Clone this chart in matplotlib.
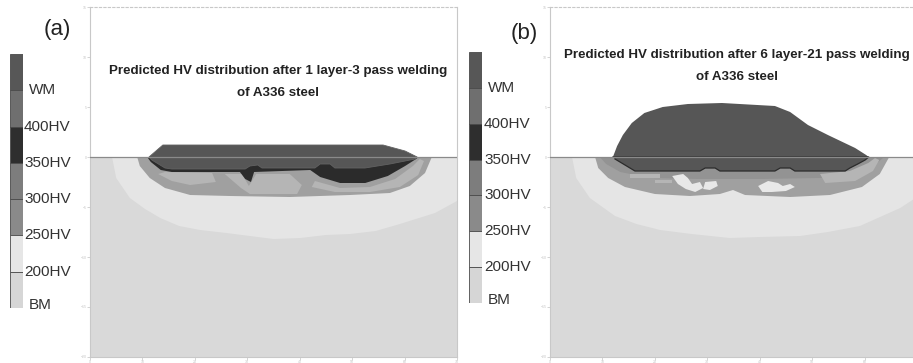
import matplotlib
matplotlib.use("Agg")
import matplotlib.pyplot as plt
from matplotlib.patches import Polygon

plt.rcParams['font.family'] = ['Liberation Sans', 'DejaVu Sans']

# colour legend (top -> bottom)
band_colors = ['#575757', '#6f6f6f', '#2e2e2e', '#7d7d7d', '#8a8a8a', '#e6e6e6', '#d6d6d6']
band_labels = ['WM', '400HV', '350HV', '300HV', '250HV', '200HV', 'BM']

# zone colours used in the maps
c_bm = '#d9d9d9'
c_haz = '#e5e5e5'
c_ring = '#a0a0a0'
c_ring_dark = '#939393'
c_ring_light = '#b5b5b5'
c_white = '#e8e8e8'
c_black = '#2b2b2b'
c_wm = '#565656'

x_ticks_a = [0, 10, 20, 30, 40, 50, 60, 70]
x_ticks_b = [0, 10, 20, 30, 40, 50, 60]
y_ticks = [15, 10, 5, 0, -5, -10, -15, -20]

# ---- panel (a): 1 layer - 3 pass (x, y in mm) ----
haz_a = [(4.2, 0), (5.0, -2.1), (7.6, -4.1), (10.5, -5.2), (13.4, -6.1), (17.0, -6.9),
         (21.0, -7.3), (26.0, -7.6), (30.5, -7.9), (35.0, -8.2), (40.1, -8.1), (45.0, -7.8),
         (49.6, -7.7), (54.5, -7.4), (59.1, -6.7), (65.8, -5.6), (70, -4.4), (70, 0)]
ring_a = [(9.0, 0), (9.5, -0.9), (11.4, -2.1), (14.3, -3.1), (19.1, -3.8), (26.7, -3.9),
          (38.1, -4.0), (49.6, -3.8), (57.2, -3.6), (61.0, -2.9), (63.9, -1.6), (65.2, 0)]
light_a1 = [(14.3, -1.5), (23.3, -1.6), (24.0, -2.5), (19.1, -2.8), (15.6, -2.4), (13.0, -1.7)]
light_a2 = [(25.7, -1.7), (29.0, -1.7), (30.3, -2.9), (31.7, -1.7), (38.1, -1.7), (40.4, -2.8),
            (39.5, -3.7), (30.5, -3.7), (28.8, -3.1)]
light_a3 = [(42.9, -2.4), (47.7, -3.1), (53.4, -3.0), (58.2, -2.2), (61.6, -0.9), (62.9, -0.2),
            (63.7, -0.4), (62.6, -1.8), (59.1, -3.0), (53.4, -3.5), (46.7, -3.5), (42.3, -3.0)]
black_a = [(10.9, 0), (11.6, -0.5), (13.5, -1.3), (15.6, -1.5), (28.6, -1.5), (29.6, -2.2),
           (30.7, -2.5), (31.3, -1.5), (42.0, -1.3), (43.9, -2.0), (47.7, -2.6), (52.5, -2.6),
           (56.8, -1.9), (60.1, -0.9), (62.2, -0.2), (62.7, 0)]
wm_a = [(11.25, 0), (13.9, 1.2), (55.9, 1.2), (60.1, 0.6), (62.4, 0), (62.0, -0.2),
        (60.1, -0.4), (57.2, -0.7), (52.45, -1.1), (46.7, -1.1), (45.8, -0.7), (43.9, -0.7),
        (42.9, -1.1), (32.8, -1.1), (32.0, -0.8), (30.5, -0.9), (29.6, -1.2), (15.6, -1.2),
        (14.3, -1.1), (11.8, -0.3)]

# ---- panel (b): 6 layer - 21 pass ----
haz_b = [(4.2, 0), (5.0, -2.1), (7.6, -4.1), (12.4, -5.9), (16.5, -6.7), (21.0, -7.3),
         (27.0, -7.7), (34.3, -8.1), (40.0, -8.0), (47.7, -7.9), (53.0, -7.5), (59.1, -6.9),
         (66.8, -5.1), (70, -4.0), (70, 0)]
ring_b = [(8.6, 0), (9.2, -1.1), (11.1, -2.1), (14.3, -3.0), (20.0, -3.7), (26.7, -3.9),
          (32.4, -3.7), (34.9, -3.3), (37.2, -3.8), (45.8, -4.0), (53.4, -3.8), (59.5, -3.0),
          (62.9, -1.7), (64.7, 0)]
dark_b = [(9.5, 0), (10.7, -0.7), (13.4, -1.5), (19.1, -2.1), (28.6, -2.2), (40.1, -2.2),
          (51.5, -2.1), (58.2, -1.7), (62.0, -0.8), (63.7, 0)]
light_b1 = [(15.3, -1.7), (21.0, -1.7), (21.0, -2.1), (15.3, -2.1)]
light_b2 = [(20.0, -2.3), (23.3, -2.3), (23.3, -2.6), (20.0, -2.6)]
light_b3 = [(51.5, -1.7), (57.2, -1.4), (60.7, -0.6), (62.0, -0.1), (62.8, -0.3), (61.6, -1.4),
            (58.2, -2.4), (52.5, -2.6)]
white_b1 = [(23.3, -1.9), (25.4, -1.7), (26.3, -2.1), (27.1, -2.7), (28.6, -2.5), (29.2, -3.1),
            (27.7, -3.5), (25.9, -3.2), (24.4, -2.7)]
white_b2 = [(29.6, -2.5), (31.7, -2.4), (32.0, -2.9), (30.5, -3.3), (29.2, -3.2)]
white_b3 = [(39.7, -2.9), (41.6, -2.4), (43.5, -2.6), (44.4, -2.9), (45.8, -2.7), (46.7, -3.0),
            (45.0, -3.4), (42.3, -3.5), (40.5, -3.5)]
wm_b = [(12.0, 0), (12.8, 1.1), (13.9, 2.2), (15.6, 3.4), (18.0, 4.4), (21.5, 5.0), (26.3, 5.3),
        (32.8, 5.4), (42.9, 5.1), (45.8, 4.5), (49.2, 3.2), (53.0, 2.2), (58.2, 0.9), (60.3, 0.2),
        (60.8, 0), (60.1, -0.3), (58.7, -0.7), (57.2, -1.1), (56.3, -1.4), (46.7, -1.4),
        (45.8, -1.1), (43.9, -1.1), (42.9, -1.4), (32.4, -1.4), (31.5, -1.1), (29.6, -1.1),
        (28.6, -1.4), (16.2, -1.4), (14.3, -0.8), (12.4, -0.2)]

title_a = 'Predicted HV distribution after 1 layer-3 pass welding\nof A336 steel'
title_b = 'Predicted HV distribution after 6 layer-21 pass welding\nof A336 steel'

W, H = 913, 363
fig = plt.figure(figsize=(W / 100, H / 100), dpi=100)


def px(x, y):
    # pixel position -> figure fraction
    return x / W, 1 - y / H


def draw_map(ax, layers, xticks):
    ax.set_xlim(0, 70)
    ax.set_ylim(-20, 15)
    ax.axhspan(-20, 0, color=c_bm, lw=0, zorder=0)
    for pts, col, z in layers:
        ax.add_patch(Polygon(pts, closed=True, facecolor=col, edgecolor='none', zorder=z))
    ax.axhline(0, color='#8a8a8a', lw=0.9, zorder=5)
    ax.set_xticks(xticks)
    ax.set_yticks(y_ticks)
    ax.tick_params(direction='out', length=2, width=0.5, colors='#c4c4c4', labelsize=2.5, pad=0.5)
    for s in ax.spines.values():
        s.set_color('#c8c8c8')
        s.set_linewidth(0.8)
    ax.spines['top'].set_linestyle((0, (2, 2)))


def draw_legend(x0, y0, w, h, lx, lx2):
    cax = fig.add_axes([x0 / W, 1 - (y0 + h) / H, w / W, h / H])
    n = len(band_colors)
    for i, col in enumerate(band_colors):
        cax.bar(0, 1, bottom=n - 1 - i, width=1, color=col, edgecolor='#4a4a4a', lw=0.6)
    cax.set_xlim(-0.5, 0.5)
    cax.set_ylim(0, n)
    cax.axis('off')
    for i, lab in enumerate(band_labels):
        yy = y0 + h * (i + 1) / n
        x = lx2 if lab in ('WM', 'BM') else lx
        if lab == 'BM':
            yy -= 3
        fx, fy = px(x, yy)
        fig.text(fx, fy, lab, fontsize=11, color='#333333', ha='left', va='center')


ax_a = fig.add_axes([90 / W, 6 / H, 367 / W, 350 / H])
draw_map(ax_a, [(haz_a, c_haz, 1), (ring_a, c_ring, 2), (light_a1, c_ring_light, 3),
                (light_a2, c_ring_light, 3), (light_a3, c_ring_light, 3),
                (black_a, c_black, 4), (wm_a, c_wm, 4.5)], x_ticks_a)
ax_a.add_patch(Polygon(wm_a, closed=True, facecolor='none', edgecolor='#626262', lw=0.6, zorder=4.6))

ax_b = fig.add_axes([550 / W, 6 / H, 367 / W, 350 / H])
draw_map(ax_b, [(haz_b, c_haz, 1), (ring_b, c_ring, 2), (dark_b, c_ring_dark, 2.5),
                (light_b1, c_ring_light, 3), (light_b2, c_ring_light, 3), (light_b3, c_ring_light, 3),
                (white_b1, c_white, 3.5), (white_b2, c_white, 3.5), (white_b3, c_white, 3.5),
                (wm_b, c_wm, 4.5)], x_ticks_b)
low_b = [p for p in wm_b if p[1] <= 0]
ax_b.plot([p[0] for p in low_b], [p[1] for p in low_b], color=c_black, lw=0.9, zorder=4.6)

draw_legend(9.5, 54, 13.5, 254, 24, 29)
draw_legend(469, 52, 13, 251, 484, 488)

fx, fy = px(278, 82)
fig.text(fx, fy, title_a, fontsize=9.6, fontweight='bold', color='#222222',
         ha='center', va='center', linespacing=2.1)
fx, fy = px(737, 66)
fig.text(fx, fy, title_b, fontsize=9.6, fontweight='bold', color='#222222',
         ha='center', va='center', linespacing=2.1)

fx, fy = px(57, 35)
fig.text(fx, fy, '(a)', fontsize=16, color='#222222', ha='center', va='baseline')
fx, fy = px(524, 39)
fig.text(fx, fy, '(b)', fontsize=16, color='#222222', ha='center', va='baseline')

fig.savefig('out.png', dpi=100)
